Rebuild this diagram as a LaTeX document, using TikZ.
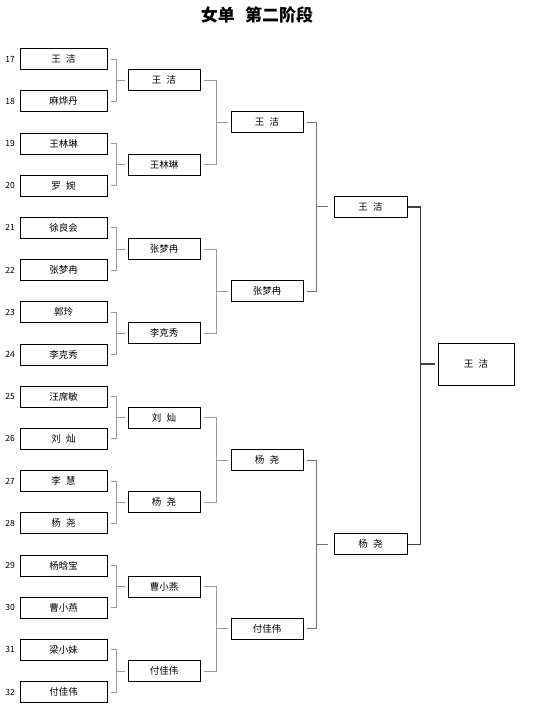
\documentclass[tikz,border=0pt]{standalone}
\usepackage{fontspec}
\newfontfamily\cjk{Noto Sans CJK SC}
\usetikzlibrary{calc}
\newcommand\namegap{\hspace{0.55em}}

\begin{document}
\begin{tikzpicture}[
        x=1pt, y=-1pt,
        every node/.style={font=\cjk\fontsize{9.5}{11}\selectfont},
        player/.style={
            rectangle,
            draw=black,
            line width=0.8pt,
            minimum width=87pt,
            minimum height=21pt,
            inner sep=0pt
        },
        winner/.style={player, minimum width=72pt},
        champbox/.style={player, minimum width=76pt, minimum height=42pt},
        seed/.style={font=\cjk\fontsize{8.5}{10}\selectfont, inner sep=0pt},
        bracket/.style={draw=black!40, line width=0.8pt},
        bracketdark/.style={draw=black!55, line width=0.8pt},
        finalbracket/.style={draw=black!75, line width=1.6pt}
    ]
        \useasboundingbox (0,0) rectangle (537,716);
        \node[font=\cjk\bfseries\fontsize{17}{19}\selectfont] (title) at (257,15) {女单\hspace{0.6em}第二阶段};

        % first round
        \foreach \nm [count=\i from 17] in {王\namegap 洁, 麻烨丹, 王林琳, 罗\namegap 婉,
            徐良会, 张梦冉, 郭玲, 李克秀, 汪席敏, 刘\namegap 灿, 李\namegap 慧, 杨\namegap 尧,
            杨晗宝, 曹小燕, 梁小妹, 付佳伟}{
            \node[player] (p\i) at (63.5,{59+42.2*(\i-17)}) {\nm};
            \node[seed] (n\i) at (10,{59+42.2*(\i-17)}) {\i};
        }
        % second round
        \foreach \nm [count=\k] in {王\namegap 洁, 王林琳, 张梦冉, 李克秀,
            刘\namegap 灿, 杨\namegap 尧, 曹小燕, 付佳伟}{
            \node[winner] (q\k) at (164,{59+42.2*(2*\k-1.5)}) {\nm};
        }
        % third round
        \foreach \nm [count=\k] in {王\namegap 洁, 张梦冉, 杨\namegap 尧, 付佳伟}{
            \node[winner] (s\k) at (267,{59+42.2*(4*\k-2.5)}) {\nm};
        }
        % semifinal
        \foreach \nm [count=\k] in {王\namegap 洁, 杨\namegap 尧}{
            \node[winner, minimum width=73pt] (f\k) at (370.5,{59+42.2*(8*\k-4.5)}) {\nm};
        }
        \node[champbox] (champ) at (476,364) {王\namegap 洁};

        % brackets
        \foreach \k in {1,...,8}{
            \pgfmathtruncatemacro\a{15+2*\k}
            \pgfmathtruncatemacro\b{16+2*\k}
            \draw[bracket] ([xshift=4pt]p\a.east) -| ([xshift=-11pt]q\k.west) |- ([xshift=4pt]p\b.east);
            \draw[bracket] ([xshift=-11pt]q\k.west) -- ([xshift=-3pt]q\k.west);
        }
        \foreach \k in {1,...,4}{
            \pgfmathtruncatemacro\a{2*\k-1}
            \pgfmathtruncatemacro\b{2*\k}
            \draw[bracket] ([xshift=4pt]q\a.east) -| ([xshift=-14pt]s\k.west) |- ([xshift=4pt]q\b.east);
            \draw[bracket] ([xshift=-14pt]s\k.west) -- ([xshift=-3pt]s\k.west);
        }
        \foreach \k in {1,2}{
            \pgfmathtruncatemacro\a{2*\k-1}
            \pgfmathtruncatemacro\b{2*\k}
            \draw[bracketdark] ([xshift=4pt]s\a.east) -| ([xshift=-17pt]f\k.west) |- ([xshift=4pt]s\b.east);
            \draw[bracketdark] ([xshift=-17pt]f\k.west) -- ([xshift=-6pt]f\k.west);
        }
        \draw[finalbracket] ([xshift=1pt]f1.east) -| ([xshift=-17pt]champ.west) |- ([xshift=1pt]f2.east);
        \draw[finalbracket] ([xshift=-17pt]champ.west) -- ([xshift=-3pt]champ.west);
\end{tikzpicture}
\end{document}
